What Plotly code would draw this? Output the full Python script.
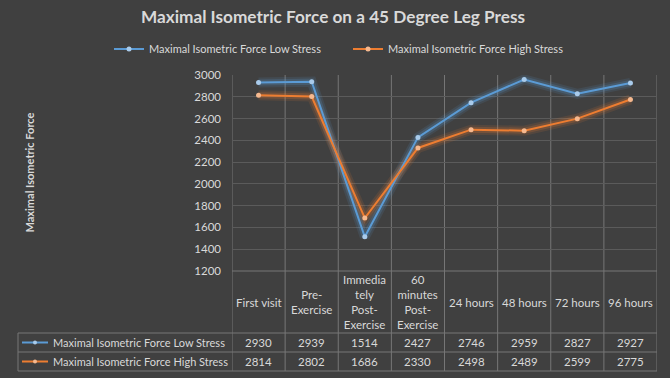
import plotly.graph_objects as go

categories = ["First visit", "Pre-Exercise", "Immediately Post-Exercise", "60 minutes Post-Exercise",
              "24 hours", "48 hours", "72 hours", "96 hours"]
category_labels = ["First visit", "Pre-<br>Exercise", "Immedia<br>tely<br>Post-<br>Exercise",
                   "60<br>minutes<br>Post-<br>Exercise", "24 hours", "48 hours", "72 hours", "96 hours"]
low_stress = [2930, 2939, 1514, 2427, 2746, 2959, 2827, 2927]
high_stress = [2814, 2802, 1686, 2330, 2498, 2489, 2599, 2775]
series_names = ["Maximal Isometric Force Low Stress", "Maximal Isometric Force High Stress"]
y_ticks = [1200, 1400, 1600, 1800, 2000, 2200, 2400, 2600, 2800, 3000]

W, H = 670, 378
L, R, T, B = 232, 13, 75, 107
PW, PH = W - L - R, H - T - B

def px_x(p):
    return (p - L) / PW

def px_y(p):
    return (H - B - p) / PH

BG = "#404040"
TXT = "#d9d9d9"
GRID = "#5b5b5b"
TBL = "#767676"
BLUE = "#5b9bd5"
ORANGE = "#ed7d31"
BLUE_M = "#a9cbeb"
ORANGE_M = "#f6b98f"
FONT = "Lato"

xs = list(range(len(categories)))
fig = go.Figure()
series = [(low_stress, BLUE, BLUE_M, series_names[0]), (high_stress, ORANGE, ORANGE_M, series_names[1])]
# glow
for vals, col, mcol, name in series:
    for w, op in [(10, 0.12), (6, 0.2)]:
        fig.add_trace(go.Scatter(x=xs, y=vals, mode="lines", line=dict(color=col, width=w),
                                 opacity=op, showlegend=False, hoverinfo="skip"))
for vals, col, mcol, name in series:
    fig.add_trace(go.Scatter(x=xs, y=vals, mode="lines+markers", name=name,
                             line=dict(color=col, width=2),
                             marker=dict(color=mcol, size=5, line=dict(width=0)),
                             customdata=categories,
                             hovertemplate="%{customdata}: %{y}<extra>" + name + "</extra>"))

shapes = []
# vertical lines through plot + table
for i in range(len(categories) + 1):
    shapes.append(dict(type="line", xref="x", yref="paper", x0=i - 0.5, x1=i - 0.5,
                       y0=1, y1=px_y(371), line=dict(color=TBL, width=1), layer="below"))
# horizontal table lines
shapes.append(dict(type="line", xref="paper", yref="paper", x0=0, x1=1, y0=0, y1=0,
                   line=dict(color=TBL, width=1)))
for py in [333, 352, 371]:
    shapes.append(dict(type="line", xref="paper", yref="paper", x0=px_x(18), x1=1, y0=px_y(py), y1=px_y(py),
                       line=dict(color=TBL, width=1)))
shapes.append(dict(type="line", xref="paper", yref="paper", x0=px_x(18), x1=px_x(18),
                   y0=px_y(333), y1=px_y(371), line=dict(color=TBL, width=1)))

annotations = []
for i, lab in enumerate(category_labels):
    annotations.append(dict(x=i, xref="x", y=px_y(302), yref="paper", text=lab, showarrow=False,
                            font=dict(family=FONT, size=11.5, color=TXT), align="center", yanchor="middle"))
for row_py, vals in [(342.5, low_stress), (361.5, high_stress)]:
    for i, v in enumerate(vals):
        annotations.append(dict(x=i, xref="x", y=px_y(row_py), yref="paper", text=str(v), showarrow=False,
                                font=dict(family=FONT, size=11.5, color=TXT), yanchor="middle"))
# legend keys in table
for row_py, (vals, col, mcol, name) in zip([342.5, 361.5], series):
    shapes.append(dict(type="line", xref="paper", yref="paper", x0=px_x(22), x1=px_x(48),
                       y0=px_y(row_py), y1=px_y(row_py), line=dict(color=col, width=2)))
    shapes.append(dict(type="circle", xref="paper", yref="paper", x0=px_x(33), x1=px_x(37),
                       y0=px_y(row_py - 2), y1=px_y(row_py + 2), fillcolor=mcol, line=dict(width=0)))
    annotations.append(dict(x=px_x(51), xref="paper", y=px_y(row_py), yref="paper", text=name,
                            showarrow=False, xanchor="left", yanchor="middle",
                            font=dict(family=FONT, size=11, color=TXT)))
# y axis title
annotations.append(dict(x=px_x(20), xref="paper", y=px_y(173), yref="paper", text="<b>Maximal Isometric Force</b>",
                        textangle=-90, showarrow=False, font=dict(family=FONT, size=11, color=TXT)))

fig.update_layout(
    width=W, height=H, margin=dict(l=L, r=R, t=T, b=B, autoexpand=False),
    paper_bgcolor=BG, plot_bgcolor=BG,
    title=dict(text="<b>Maximal Isometric Force on a 45 Degree Leg Press</b>", xref="container", x=333 / W,
               xanchor="center", yref="container", y=1 - 17 / H, yanchor="middle",
               font=dict(family=FONT, size=17.2, color=TXT)),
    legend=dict(orientation="h", xref="paper", x=px_x(109), xanchor="left", yref="paper",
                y=px_y(49), yanchor="middle", entrywidth=194, entrywidthmode="pixels",
                font=dict(family=FONT, size=11, color=TXT), bgcolor="rgba(0,0,0,0)"),
    xaxis=dict(range=[-0.5, len(categories) - 0.5], showgrid=False, zeroline=False, showticklabels=False,
               showline=False, fixedrange=True),
    yaxis=dict(range=[y_ticks[0], y_ticks[-1]], tickvals=y_ticks, showgrid=True, gridcolor=GRID, gridwidth=1,
               zeroline=False, showline=False, ticklabelstandoff=10,
               tickfont=dict(family=FONT, size=11.5, color=TXT), fixedrange=True),
    shapes=shapes, annotations=annotations, showlegend=True,
)
fig.write_html("out.html", config={"displayModeBar": False},
               post_script="document.body.style.margin='0';")
